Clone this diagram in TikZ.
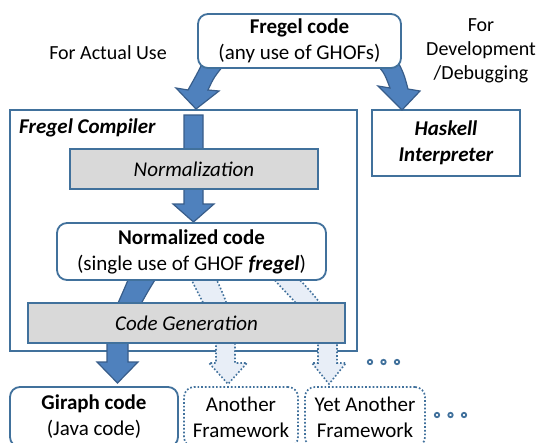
\documentclass[tikz,border=0pt]{standalone}
\usepackage{fontspec}
\setmainfont{Carlito}
\usetikzlibrary{calc}
\definecolor{bbord}{RGB}{65,113,156}
\definecolor{afill}{RGB}{79,129,189}
\definecolor{aline}{RGB}{56,93,138}
\definecolor{gfill}{RGB}{217,217,217}
\definecolor{lfill}{RGB}{232,238,247}
\begin{document}
\begin{tikzpicture}[x=1pt,y=-1pt,
 txt/.style={font=\fontsize{21}{26}\selectfont, align=center},
 lbl/.style={font=\fontsize{20}{24}\selectfont, align=center},
 codebox/.style={draw=bbord, line width=1.8pt, rounded corners=10pt, fill=white, txt, inner sep=0pt},
 sqbox/.style={draw=bbord, line width=1.8pt, fill=white, txt, inner sep=0pt},
 stagebox/.style={draw=bbord, line width=1.8pt, fill=gfill, txt, inner sep=0pt},
 ghostbox/.style={draw=bbord, line width=1.7pt, dotted, rounded corners=10pt, fill=white, txt, inner sep=0pt},
 fatarrow/.style={fill=afill, draw=aline, line width=1.2pt, line join=miter},
 ghostarrow/.style={fill=lfill, draw=bbord, line width=1.6pt, dotted},
 dotmark/.style={draw=bbord, line width=1.8pt, fill=white}
]
\clip (0,0) rectangle (540,442);
\fill[white] (0,0) rectangle (540,442);

% containers
\node[sqbox, minimum width=347pt, minimum height=241pt] (compiler) at (183.5,230.5) {};
\node[sqbox, minimum width=148pt, minimum height=66pt] (haskell) at (446,143)
  {\textbf{\textit{Haskell}}\\\textbf{\textit{Interpreter}}};
\node[txt, anchor=west, inner sep=0pt] (complabel) at (19,128) {\textbf{\textit{Fregel Compiler}}};

% top curved arrows
\draw[fatarrow] (204,60) .. controls (197,74) .. (188,90) -- (176,88) -- (196,109) -- (219,91) -- (208,90) .. controls (214,77) .. (228,60) -- cycle;
\draw[fatarrow] (372,60) .. controls (384,72) .. (390,88) -- (378,86) -- (402,110) -- (420,91) -- (408,89) .. controls (404,74) .. (397,60) -- cycle;

\node[codebox, minimum width=203pt, minimum height=54pt] (fregel) at (299.5,41)
  {\textbf{Fregel code}\\(any use of GHOFs)};

\node[lbl] (actual) at (108,53) {For Actual Use};
\node[lbl] (devel) at (481,51) {For\\Development\\/Debugging};

% vertical arrow
\draw[fatarrow] (184,115) -- (184,204) -- (173,204) -- (193.5,222) -- (214,204) -- (203,204) -- (203,115) -- cycle;
\node[stagebox, minimum width=248pt, minimum height=40pt] (norm) at (194,169) {\textit{Normalization}};

% generation arrows
\draw[ghostarrow] (188,272) .. controls (200,300) and (216,320) .. (216,345) -- (216,363) -- (209,363) -- (228,384) -- (247,363) -- (235,363) -- (235,345) .. controls (235,320) and (224,295) .. (213,272) -- cycle;
\draw[ghostarrow] (268,272) .. controls (290,300) and (318,318) .. (318,345) -- (318,363) -- (312,363) -- (329,384) -- (346,363) -- (337,363) -- (337,345) .. controls (337,318) and (312,292) .. (292,272) -- cycle;
\draw[fatarrow] (131,272) .. controls (121,300) and (107,320) .. (107,345) -- (107,362) -- (97,362) -- (117.5,383) -- (138,362) -- (128,362) -- (128,345) .. controls (128,325) and (142,300) .. (160,272) -- cycle;

\node[codebox, minimum width=269pt, minimum height=57pt] (normcode) at (191.5,251.5)
  {\textbf{Normalized code}\\(single use of GHOF \textbf{\textit{fregel}})};
\node[stagebox, minimum width=317pt, minimum height=40pt] (codegen) at (186.5,323) {\textit{Code Generation}};

% outputs
\node[codebox, minimum width=168pt, minimum height=60pt] (giraph) at (94,417)
  {\textbf{Giraph code}\\(Java code)};
\node[ghostbox, minimum width=114pt, minimum height=60pt] (another) at (241,417)
  {Another\\Framework};
\node[ghostbox, minimum width=120pt, minimum height=60pt] (yetanother) at (365,417)
  {Yet Another\\Framework};

\foreach \i/\x in {1/370,2/383.5,3/397} {\draw[dotmark] (\x,362) circle[radius=2.2pt];}
\foreach \i/\x in {1/437,2/450.5,3/464} {\draw[dotmark] (\x,415) circle[radius=2.2pt];}
\end{tikzpicture}
\end{document}
